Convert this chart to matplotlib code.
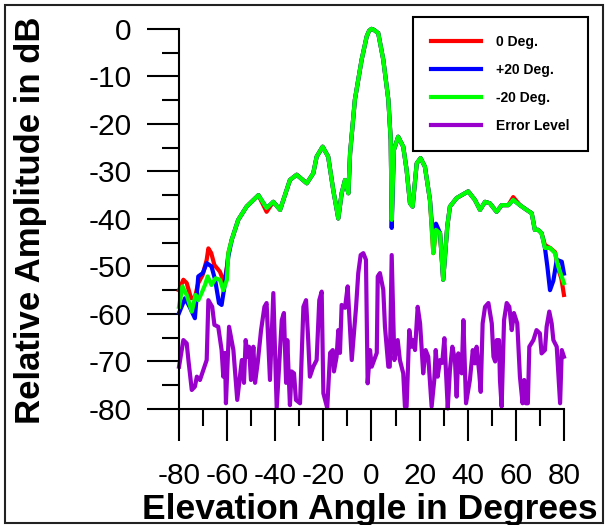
import numpy as np
import matplotlib
matplotlib.use('Agg')
from matplotlib import pyplot as plt
from matplotlib.patches import Rectangle
from matplotlib.ticker import MultipleLocator

plt.rcParams['font.family'] = ['Liberation Sans', 'DejaVu Sans']
plt.rcParams['axes.unicode_minus'] = False

# 0 Deg. cut
red_deg = [-80, -78.2, -76.8, -75, -73.4, -72, -70.2, -68.5, -67.8, -66.6, -65.3, -63, -61.2, -60.1, -59.5, -58.1,
           -55.4, -51.9, -47, -43.6, -40.8, -38, -33.9, -31.1, -26.9, -24.2, -22.8, -20.3, -18, -15.9, -13.8,
           -12.4, -11, -9.6, -8.9, -6.9, -4.1, -2, -1, 0, 1, 2.8, 4.9, 7, 8, 8.4, 9.3, 11.1, 13.2, 14.6, 16, 17.1,
           18.8, 20.4, 22.2, 24.3, 25.7, 26.8, 28.5, 29.8, 31.5, 32.6, 35.4, 40.2, 43, 45.1, 47.2, 49.2, 52, 54.1,
           56.9, 58.9, 61.7, 64.5, 66.6, 67.9, 69.3, 70.7, 72.1, 74.2, 76.3, 77.6, 78.9, 80]
red_db = [-55, -52.8, -53.5, -56.7, -56.5, -53.5, -51.8, -48.6, -46.2, -47.2, -49.7, -51.1, -53.5, -50.2, -47.2, -44.4,
          -40.2, -37.4, -35, -38.5, -36.4, -38.1, -31.8, -30.7, -32.5, -30.4, -26.9, -24.8, -26.9, -33.9, -39.9,
          -34.6, -31.8, -34.6, -26.2, -14.9, -6.5, -1.6, -0.4, 0, -0.2, -0.9, -6.5, -14.9, -23.4, -40.2, -25.5, -22.7,
          -24.8, -29.7, -36.7, -37.4, -28.3, -27.2, -29, -36, -47.2, -42.3, -43, -52.8, -41.6, -37.4, -35.6, -34.2,
          -36, -38.1, -36.4, -36.7, -38.5, -37.1, -37.1, -35.4, -37.1, -38.1, -38.8, -42.3, -42.3, -43, -45.5,
          -46.1, -47, -50.5, -52.5, -56]

# +20 Deg. cut
blue_deg = [-80, -77.5, -75.6, -73.4, -72, -70.1, -68.5, -66.5, -65, -63.4, -62.3, -60.9, -59.5, -58.1,
            -55.4, -51.9, -47, -43.6, -40.8, -38, -33.9, -31.1, -26.9, -24.2, -22.8, -20.3, -18, -15.9, -13.8,
            -12.4, -11, -9.6, -8.9, -6.9, -4.1, -2, -1, 0, 1, 2.8, 4.9, 7, 8, 8.4, 9.3, 11.1, 13.2, 14.6, 16, 17.1,
            18.8, 20.4, 22.2, 24.3, 25.7, 26.8, 28.5, 29.8, 31.5, 32.6, 35.4, 40.2, 43, 45.1, 47.2, 49.2, 52, 54.1,
            56.9, 58.9, 61.7, 64.5, 66.6, 67.9, 69.3, 70.7, 72.1, 73.1, 74.2, 75.6, 77, 79.1, 80]
blue_db = [-59.8, -56.7, -58.5, -60.9, -52.1, -51.4, -49.3, -50, -52.8, -57.7, -58.1, -53.5, -47.9, -44.4,
           -40.2, -37.4, -35, -37.7, -36.4, -38.1, -31.8, -30.7, -32.5, -30.4, -26.9, -24.8, -26.9, -33.9, -39.9,
           -34.6, -31.8, -34.6, -26.2, -14.9, -6.5, -1.6, -0.4, 0, -0.2, -0.9, -6.5, -14.9, -23.4, -41.9, -25.5, -22.7,
           -24.8, -29.7, -36.7, -37.4, -28.3, -27.2, -29, -36, -45, -41, -43, -52.8, -41.6, -37.4, -35.6, -34.2,
           -36, -38.1, -36.4, -36.7, -38.5, -37.1, -37.1, -36, -37.1, -38.1, -38.8, -42.3, -42.3, -43, -46.1,
           -50, -55, -53, -48.6, -49, -51.5]

# -20 Deg. cut
green_deg = [-80, -78.6, -76.8, -74.7, -73.1, -72, -70.6, -69.2, -68.1, -66.5, -64.8, -63, -61.6, -60.1, -59.5, -58.1,
             -55.4, -51.9, -47, -43.6, -40.8, -38, -33.9, -31.1, -26.9, -24.2, -22.8, -20.3, -18, -15.9, -13.8,
             -12.4, -11, -9.6, -8.9, -6.9, -4.1, -2, -1, 0, 1, 2.8, 4.9, 7, 8, 8.4, 9.3, 11.1, 13.2, 14.6, 16, 17.1,
             18.8, 20.4, 22.2, 24.3, 25.7, 26.8, 28.5, 29.8, 31.5, 32.6, 35.4, 40.2, 43, 45.1, 47.2, 49.2, 52, 54.1,
             56.9, 58.9, 61.7, 64.5, 66.6, 67.9, 69.3, 70.7, 72.1, 74.2, 76.3, 77.6, 80]
green_db = [-58.5, -54.2, -56, -59.5, -56, -57.1, -55.6, -53.9, -52.1, -53.9, -52.5, -52.8, -55, -52.8, -47.2, -44.4,
            -40.2, -37.4, -35, -37.7, -36.4, -38.1, -31.8, -30.7, -32.5, -30.4, -26.9, -24.8, -26.9, -33.9, -39.9,
            -34.6, -31.8, -34.6, -26.2, -14.9, -6.5, -1.6, -0.4, 0, -0.2, -0.9, -6.5, -14.9, -23.4, -40.2, -25.5, -22.7,
            -24.8, -29.7, -36.7, -37.4, -28.3, -27.2, -29, -36, -47.2, -42.3, -43, -52.8, -41.6, -37.4, -35.6, -34.2,
            -36, -38.1, -36.4, -36.7, -38.5, -37.1, -37.1, -36, -37.1, -38.1, -38.8, -42.3, -42.3, -43, -46.1,
            -46.1, -47.2, -50, -53.5]

# error level
err_deg = [-80, -78.2, -76.8, -76.1, -74.7, -73.4, -72.6, -71.3, -68.5, -67.8, -66.2, -65.3, -63.7, -62.3, -61.6,
           -60.9, -60.5, -59.2, -57.4, -55.8, -53.9, -53, -52.3, -51.5, -50.9, -50.1, -49.1, -48.4, -47.3, -45.9,
           -44.5, -43.6, -42.2, -40.8, -39.4, -37.3, -36.4, -35.5, -35, -33.9, -33.2, -32.2, -31.4, -29.7, -28.3,
           -27.2, -26.3, -25.6, -24.2, -22.8, -21.7, -20.7, -20, -18.4, -17.2, -16.1, -15.6, -14.5, -13.8, -13.1,
           -12.4, -11, -9.9, -8.2, -6.4, -5.5, -4.5, -3.4, -2.3, -1.6, -0.6, 0.1, 2.2, 2.6, 3.5, 4.9, 5.6, 7, 7.6,
           8.4, 9.5, 10.9, 11.8, 13.2, 13.9, 14.6, 15.7, 16.7, 17.4, 18.1, 19.2, 20.2, 21.5, 22.5, 23.6, 25, 26.1,
           26.7, 27.5, 28.5, 29.4, 30.3, 31.7, 32.6, 33.6, 34.7, 35.4, 36.1, 37.5, 38.2, 39.3, 40.9, 42.1, 43,
           43.7, 44.8, 45.4, 46.2, 47.2, 48.6, 50, 50.7, 51.4, 52.1, 53, 53.4, 54.1, 55.1, 56.2, 57.3, 58.3, 59.2,
           60.6, 61.7, 62.8, 63.5, 64.2, 65, 65.6, 67.3, 68.6, 70, 70.7, 72.1, 72.8, 73.9, 74.9, 75.6, 77, 78.4,
           79.1, 80]
err_db = [-71.1, -65.5, -66.2, -69.7, -76, -75.3, -73.2, -73.9, -69.7, -57.1, -58.5, -62.3, -62.7, -67.6, -73.2,
          -68.2, -78.8, -62.7, -67.6, -78.1, -69.7, -74.5, -65.5, -69, -66.9, -73.9, -66.9, -74.5, -70.3, -63.4,
          -58.5, -57.7, -73.9, -55.6, -79.8, -61.3, -59.8, -74.5, -65.5, -79.2, -72.1, -72.5, -78.1, -78.8, -58.5,
          -57.1, -65.5, -73.2, -71.1, -69.7, -57.1, -55.3, -76.7, -79.8, -68.2, -67.6, -72.1, -69, -63.4, -68.2,
          -58.1, -58.7, -54.2, -69.7, -58.5, -51.4, -47.6, -47.2, -48.6, -74.6, -67.6, -71.1, -68.2, -52.1, -51.4,
          -54.9, -62.7, -71.1, -71.1, -47.6, -69.7, -65.5, -69.7, -72.5, -79.5, -79.5, -63.4, -66.9, -65.5, -67.6,
          -58.5, -62, -72.5, -67.6, -69, -79.5, -73.9, -67.6, -73.2, -69.7, -70.3, -65.1, -79.9, -71.8, -66.9,
          -69.7, -77.4, -68.3, -72.5, -61.3, -78.8, -73.9, -67.6, -70.4, -66.9, -72.5, -76.4, -62, -58.5, -57.7,
          -62, -69, -70, -65.5, -65.5, -73.9, -79.5, -61.3, -57.7, -58.5, -63.4, -59.8, -62, -73.2, -78.8, -73.9,
          -78.8, -78.8, -66.9, -65.5, -63.4, -64.1, -68.3, -67.6, -62.7, -59.5, -62, -65.5, -66.9, -78.8, -67.6,
          -69]

fig = plt.figure(figsize=(6.11, 5.25), dpi=100)
ax = fig.add_axes([0.293, 0.221, 0.630, 0.724])

lw = 3.0
ax.plot(red_deg, red_db, color='#ff0000', lw=lw, label='0 Deg.', clip_on=False)
ax.plot(blue_deg, blue_db, color='#0000ff', lw=lw, label='+20 Deg.', clip_on=False)
ax.plot(green_deg, green_db, color='#00ff00', lw=lw, label='-20 Deg.', clip_on=False)
ax.plot(err_deg, err_db, color='#9900cc', lw=lw, label='Error Level', clip_on=False)

ax.set_xlim(-80, 80)
ax.set_ylim(-80, 0)
ax.xaxis.set_major_locator(MultipleLocator(20))
ax.xaxis.set_minor_locator(MultipleLocator(10))
ax.yaxis.set_major_locator(MultipleLocator(10))
ax.yaxis.set_minor_locator(MultipleLocator(5))
for s in ['top', 'right']:
    ax.spines[s].set_visible(False)
for s in ['left', 'bottom']:
    ax.spines[s].set_linewidth(1.5)
ax.tick_params(which='major', direction='out', length=23, width=1.5, labelsize=21.5)
ax.tick_params(which='minor', direction='out', length=12, width=1.5)
ax.tick_params(axis='x', which='major', pad=15)
ax.tick_params(axis='y', which='major', pad=11)

fig.text(30.5 / 611, 1 - 220 / 525, 'Relative Amplitude in dB', rotation=90,
         ha='center', va='center', fontsize=25, fontweight='bold')
fig.text(370 / 611, 1 - 519 / 525, 'Elevation Angle in Degrees',
         ha='center', va='baseline', fontsize=25.5, fontweight='bold')

leg = ax.legend(loc='upper right', bbox_to_anchor=(588 / 611, 1 - 17 / 525),
                bbox_transform=fig.transFigure, fancybox=False, framealpha=1,
                edgecolor='black', borderaxespad=0, borderpad=1.3, handlelength=3.6,
                handletextpad=1.1, labelspacing=1.0, prop={'weight': 'bold', 'size': 10})
leg.get_frame().set_linewidth(1.5)

fig.patches.append(Rectangle((5 / 611, 2 / 525), 598 / 611, 518 / 525, transform=fig.transFigure,
                             fill=False, edgecolor='#222222', lw=1.5))

fig.savefig('out.png', dpi=100)
